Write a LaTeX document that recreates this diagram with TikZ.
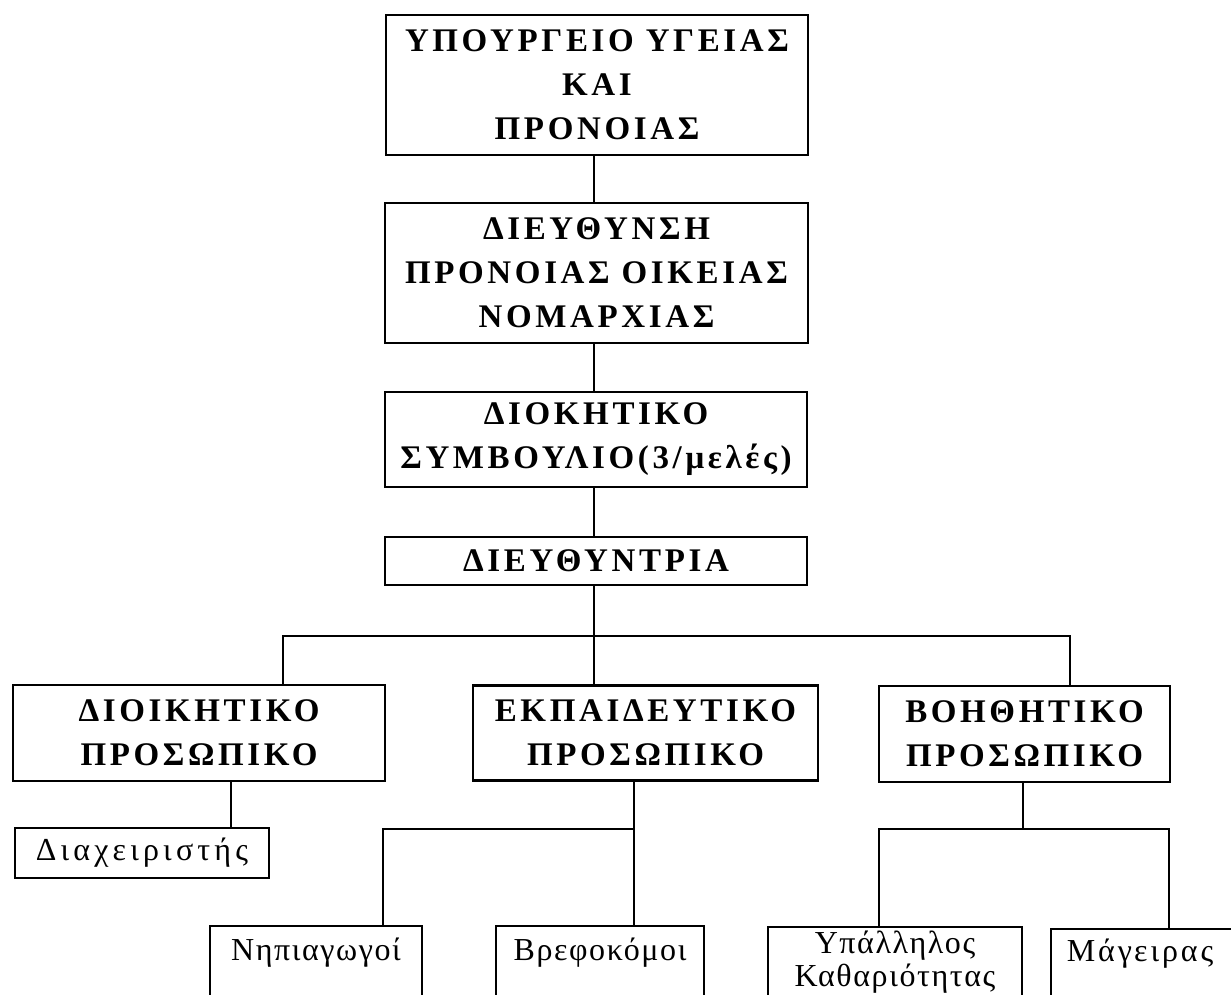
\documentclass[tikz,border=0pt]{standalone}
\usepackage{fontspec}
\setmainfont{Liberation Serif}
\newfontfamily\hb[LetterSpace=11]{Liberation Serif}
\newfontfamily\rg[LetterSpace=5]{Liberation Serif}
\newfontfamily\rgw[LetterSpace=13]{Liberation Serif}
\newfontfamily\rgm[LetterSpace=9]{Liberation Serif}
\begin{document}
\begin{tikzpicture}[x=1pt,y=-1pt,
  box/.style={draw, line width=2.8pt, rectangle, inner sep=0pt, align=center},
  big/.style={font=\hb\bfseries\fontsize{33}{44}\selectfont},
  small/.style={font=\rg\fontsize{32}{33}\selectfont, inner sep=0pt},
  wire/.style={line width=2.4pt}]
\useasboundingbox (0,0) rectangle (1231,995);
\clip (0,0) rectangle (1231,995);
\fill[white] (0,0) rectangle (1231,995);
% top chain
\node[box,big,minimum width=422,minimum height=140] (b1) at (597,85) {ΥΠΟΥΡΓΕΙΟ ΥΓΕΙΑΣ\\ΚΑΙ\\ΠΡΟΝΟΙΑΣ};
\node[box,big,minimum width=423,minimum height=140] (b2) at (596.5,273) {ΔΙΕΥΘΥΝΣΗ\\ΠΡΟΝΟΙΑΣ ΟΙΚΕΙΑΣ\\ΝΟΜΑΡΧΙΑΣ};
\node[box,big,minimum width=422,minimum height=95] (b3) at (596,439.5) {ΔΙΟΚΗΤΙΚΟ\\ΣΥΜΒΟΥΛΙΟ(3/μελές)};
\node[box,big,minimum width=422,minimum height=48] (b4) at (596,561) {ΔΙΕΥΘΥΝΤΡΙΑ};
% second level
\node[box,big,minimum width=372,minimum height=96] (c1) at (199,733) {ΔΙΟΙΚΗΤΙΚΟ\\ΠΡΟΣΩΠΙΚΟ};
\node[box,big,minimum width=345,minimum height=95] (c2) at (645.5,733) {ΕΚΠΑΙΔΕΥΤΙΚΟ\\ΠΡΟΣΩΠΙΚΟ};
\node[box,big,minimum width=291,minimum height=96] (c3) at (1024.5,734) {ΒΟΗΘΗΤΙΚΟ\\ΠΡΟΣΩΠΙΚΟ};
% third level
\node[box,small,font=\rgw\fontsize{32}{33}\selectfont,minimum width=254,minimum height=50] (d1) at (142,853) {Διαχειριστής};
\node[box,minimum width=212,minimum height=110] (e1) at (316,981) {};
\node[box,minimum width=208,minimum height=110] (e2) at (600,981) {};
\node[box,minimum width=254,minimum height=110] (e3) at (895,982) {};
\node[box,minimum width=210,minimum height=110] (e4) at (1156,984) {};
\node[small,anchor=base] (e1t) at ([yshift=-36]e1.north) {Νηπιαγωγοί};
\node[small,anchor=base] (e2t) at ([yshift=-36]e2.north) {Βρεφοκόμοι};
\node[small,anchor=base] (e3t) at ([yshift=-28]e3.north) {\begin{tabular}[t]{@{}c@{}}Υπάλληλος\\Καθαριότητας\end{tabular}};
\node[small,font=\rgm\fontsize{32}{33}\selectfont,anchor=base west] (e4t) at ([xshift=17,yshift=-34]e4.north west) {Μάγειρας};
% junction coordinates
\coordinate (v) at (594,0);
\coordinate (h1) at (0,636);
\coordinate (h2) at (0,829);
\coordinate (x1) at (283,0);
\coordinate (x3) at (1070,0);
\coordinate (xd) at (231,0);
\coordinate (xe) at (634,0);
\coordinate (xe1) at (383,0);
\coordinate (xf) at (1023,0);
\coordinate (xf3) at (879,0);
\coordinate (xf4) at (1169,0);
% connectors
\draw[wire] (b1.south -| v) -- (b2.north -| v);
\draw[wire] (b2.south -| v) -- (b3.north -| v);
\draw[wire] (b3.south -| v) -- (b4.north -| v);
\draw[wire] (b4.south -| v) -- (c2.north -| v);
\draw[wire] (c1.north -| x1) -- (x1 |- h1) -- (x3 |- h1) -- (c3.north -| x3);
\draw[wire] (c1.south -| xd) -- (d1.north -| xd);
\draw[wire] (c2.south -| xe) -- (e2.north -| xe);
\draw[wire] (xe |- h2) -- (xe1 |- h2) -- (e1.north -| xe1);
\draw[wire] (c3.south -| xf) -- (xf |- h2);
\draw[wire] (e3.north -| xf3) -- (xf3 |- h2) -- (xf4 |- h2) -- (e4.north -| xf4);
\end{tikzpicture}
\end{document}
